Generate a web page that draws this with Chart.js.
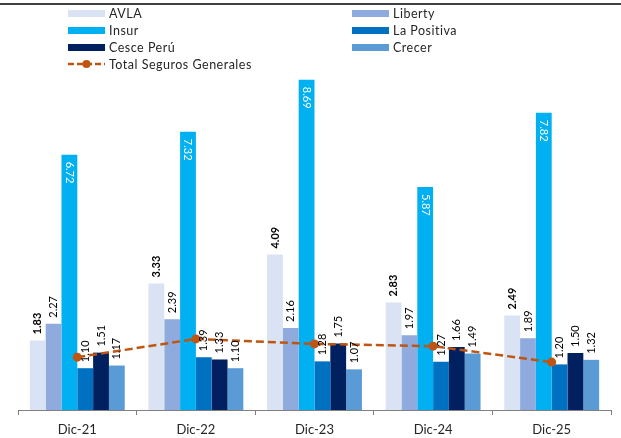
<!DOCTYPE html>
<html>
<head>
<meta charset="utf-8">
<script src="https://cdn.jsdelivr.net/npm/chart.js@4.4.1/dist/chart.umd.min.js"></script>
<style>
  html, body { margin:0; padding:0; background:#fff; }
  #wrap { position:relative; width:621px; height:438px; }
  #topline { position:absolute; left:0; top:3px; width:621px; height:2px; background:#404040; }
  .item { position:absolute; height:14px; display:flex; align-items:center; font:12.5px Lato, sans-serif; letter-spacing:0.5px; color:#262626; white-space:nowrap; }
  .sw { width:37px; height:7px; margin-right:4px; }
  .item svg { margin-right:4px; }
</style>
</head>
<body>
<div id="wrap">
  <canvas id="chart" width="621" height="438"></canvas>
  <div id="topline"></div>
  <div id="legend"></div>
</div>
<script>
const categories = ["Dic-21", "Dic-22", "Dic-23", "Dic-24", "Dic-25"];
const avla       = [1.83, 3.33, 4.09, 2.83, 2.49];
const liberty    = [2.27, 2.39, 2.16, 1.97, 1.89];
const insur      = [6.72, 7.32, 8.69, 5.87, 7.82];
const laPositiva = [1.10, 1.39, 1.28, 1.27, 1.20];
const cesce      = [1.51, 1.33, 1.75, 1.66, 1.50];
const crecer     = [1.17, 1.10, 1.07, 1.49, 1.32];
const totalGenerales = [1.39, 1.87, 1.74, 1.68, 1.26];

const lineColor = "#BF5512";

function barSet(label, data, color, extra){
  return Object.assign({ type:"bar", label, data, backgroundColor:color, borderWidth:0, order:2,
    categoryPercentage:0.8, barPercentage:1.0 }, extra || {});
}

const datasets = [
  barSet("AVLA", avla, "#DAE3F3", { boldLabel:true }),
  barSet("Liberty", liberty, "#8FAADC"),
  barSet("Insur", insur, "#00B0F0", { inside:true }),
  barSet("La Positiva", laPositiva, "#0070C0"),
  barSet("Cesce Perú", cesce, "#002060"),
  barSet("Crecer", crecer, "#5B9BD5"),
  {
    type:"line", label:"Total Seguros Generales", data:totalGenerales, order:1,
    borderColor:lineColor, backgroundColor:lineColor, borderWidth:2.5, borderDash:[8,4],
    pointRadius:4.5, pointBackgroundColor:lineColor, pointBorderWidth:0, tension:0, fill:false
  }
];

// value labels, rotated like the excel original
const valueLabels = {
  id:"valueLabels",
  afterDatasetsDraw(chart){
    const ctx = chart.ctx;
    chart.data.datasets.forEach((ds, i) => {
      if (ds.type === "line") return;
      const meta = chart.getDatasetMeta(i);
      meta.data.forEach((bar, j) => {
        const txt = ds.data[j].toFixed(2);
        ctx.save();
        ctx.translate(bar.x, ds.inside ? bar.y + 7 : bar.y - 6);
        ctx.rotate(ds.inside ? Math.PI / 2 : -Math.PI / 2);
        ctx.font = (ds.boldLabel ? "bold " : "") + "11px Lato, sans-serif";
        ctx.fillStyle = ds.inside ? "#ffffff" : "#000000";
        ctx.textAlign = "left";
        ctx.textBaseline = "middle";
        ctx.fillText(txt, 0, 0);
        ctx.restore();
      });
    });
  }
};

const chart = new Chart(document.getElementById("chart"), {
  data:{ labels:categories, datasets },
  options:{
    responsive:false,
    animation:false,
    layout:{ padding:{ top:68, left:18, right:10, bottom:0 } },
    plugins:{ legend:{ display:false }, tooltip:{ enabled:false } },
    scales:{
      x:{
        grid:{ offset:true, drawOnChartArea:false, drawTicks:true, tickLength:5, color:"#808080" },
        border:{ display:true, color:"#808080", width:1 },
        ticks:{ color:"#262626", font:{ family:"Lato, sans-serif", size:13 }, padding:7 },
        afterFit(s){ s.height = 28; }
      },
      y:{ display:false, min:0, max:9 }
    }
  },
  plugins:[valueLabels]
});

// two-column legend like the original
(function buildLegend(){
  const leg = document.getElementById("legend");
  const slots = [
    [68, 13], [352, 13],
    [68, 30], [352, 30],
    [68, 47], [352, 47],
    [68, 64]
  ];
  chart.data.datasets.forEach((ds, i) => {
    const el = document.createElement("div");
    el.className = "item";
    el.style.left = slots[i][0] + "px";
    el.style.top = (slots[i][1] - 7) + "px";
    if (ds.type === "line"){
      el.innerHTML = '<svg width="37" height="10"><line x1="0" y1="5" x2="37" y2="5" stroke="' + lineColor +
        '" stroke-width="2.5" stroke-dasharray="6,3"/><circle cx="18.5" cy="5" r="4" fill="' + lineColor + '"/></svg>';
    } else {
      const sw = document.createElement("span");
      sw.className = "sw";
      sw.style.background = ds.backgroundColor;
      el.appendChild(sw);
    }
    const t = document.createElement("span");
    t.textContent = ds.label;
    el.appendChild(t);
    leg.appendChild(el);
  });
})();
</script>
</body>
</html>
